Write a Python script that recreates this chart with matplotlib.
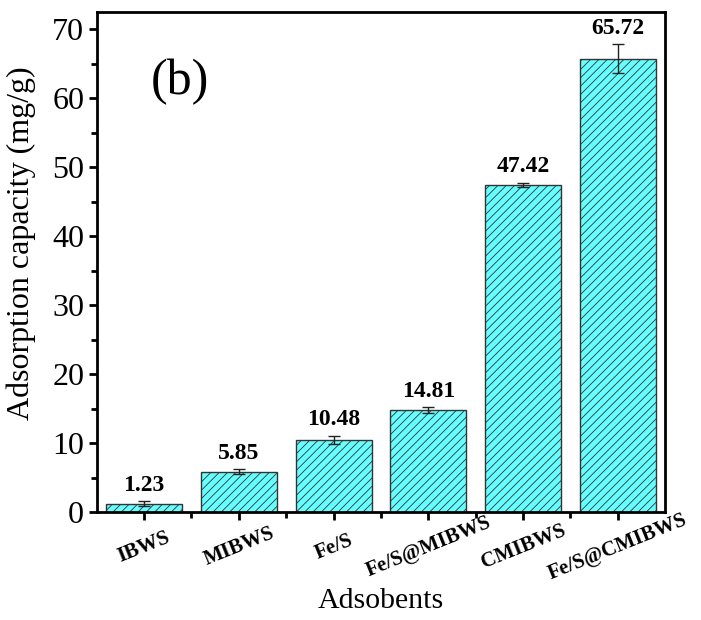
import matplotlib
matplotlib.use("Agg")
import matplotlib.pyplot as plt
from matplotlib.ticker import MultipleLocator, FixedLocator

categories = ["IBWS", "MIBWS", "Fe/S", "Fe/S@MIBWS", "CMIBWS", "Fe/S@CMIBWS"]
values = [1.23, 5.85, 10.48, 14.81, 47.42, 65.72]
errors = [0.35, 0.35, 0.55, 0.4, 0.3, 2.1]
value_labels = ["1.23", "5.85", "10.48", "14.81", "47.42", "65.72"]

plt.rcParams['font.family'] = ['Liberation Serif', 'DejaVu Serif']
plt.rcParams['hatch.linewidth'] = 0.6
plt.rcParams['hatch.color'] = '#2f4f4f'

fig = plt.figure(figsize=(7.01, 6.2), dpi=100)
ax = fig.add_axes([0.138, 0.174, 0.811, 0.807])

x = list(range(1, len(categories) + 1))
ax.bar(x, values, width=0.8, color='#66ffff', edgecolor='#333333',
       linewidth=1.0, hatch='////', zorder=2)
ax.errorbar(x, values, yerr=errors, fmt='none', ecolor='#222222',
            elinewidth=1.0, capsize=4, capthick=1.0, zorder=3)

for xi, v, e, lab in zip(x, values, errors, value_labels):
    ax.text(xi, v + e + 0.8, lab, ha='center', va='bottom',
            fontsize=17, fontweight='bold')

ax.set_xlim(0.5, 6.5)
ax.set_ylim(0, 72.5)
ax.yaxis.set_major_locator(MultipleLocator(10))
ax.yaxis.set_minor_locator(MultipleLocator(5))
ax.xaxis.set_major_locator(FixedLocator(x))
ax.xaxis.set_minor_locator(FixedLocator([1.5, 2.5, 3.5, 4.5, 5.5]))
ax.set_xticklabels(categories, rotation=22, ha='center', va='center',
                   rotation_mode='anchor', fontsize=15, fontweight='bold')
ax.tick_params(axis='y', which='major', labelsize=23, length=6, width=2,
               direction='out', pad=3)
ax.tick_params(axis='y', which='minor', length=4, width=2, direction='out')
ax.tick_params(axis='x', which='major', length=6, width=2, direction='out', pad=19)
ax.tick_params(axis='x', which='minor', length=4, width=2, direction='out')

for s in ax.spines.values():
    s.set_linewidth(2)

ax.set_ylabel("Adsorption capacity (mg/g)", fontsize=23)
ax.yaxis.set_label_coords(-0.106, 0.538)
ax.set_xlabel("Adsobents", fontsize=21.5)
ax.xaxis.set_label_coords(0.5, -0.152)

ax.text(1.38, 62.3, "(b)", fontsize=36, ha='center', va='center')

fig.savefig("out.png", dpi=100)
